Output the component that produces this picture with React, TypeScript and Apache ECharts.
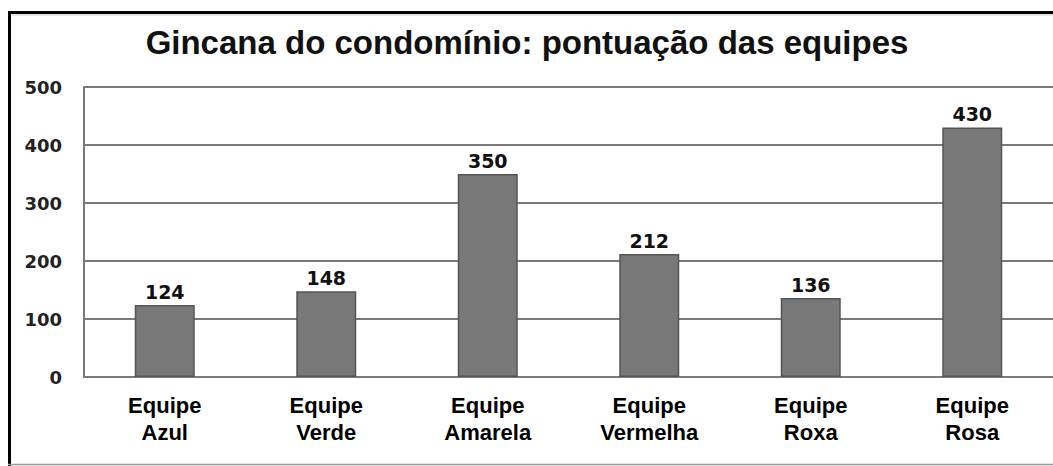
import React, { useEffect, useRef } from "react";
import * as echarts from "echarts";

const categories = [
  "Equipe\nAzul",
  "Equipe\nVerde",
  "Equipe\nAmarela",
  "Equipe\nVermelha",
  "Equipe\nRoxa",
  "Equipe\nRosa",
];
const values = [124, 148, 350, 212, 136, 430];
const titleText = "Gincana do condomínio: pontuação das equipes";

export default function App() {
  const ref = useRef<HTMLDivElement>(null);
  useEffect(() => {
    document.body.style.margin = "0";
    const chart = echarts.init(ref.current!, null, { renderer: "svg" });
    chart.setOption({
      animation: false,
      backgroundColor: "#ffffff",
      title: {
        text: titleText,
        left: 522,
        textAlign: "center",
        top: 21,
        textStyle: {
          fontFamily: "Liberation Sans, Arial, sans-serif",
          fontWeight: "bold",
          fontSize: 33,
          color: "#111",
        },
      },
      grid: { left: 84, right: 0, top: 87, bottom: 89, containLabel: false },
      xAxis: {
        type: "category",
        data: categories,
        axisTick: { show: false },
        axisLine: { show: true, lineStyle: { color: "#7a7a7a", width: 2 } },
        axisLabel: {
          interval: 0,
          margin: 15,
          fontFamily: "Liberation Sans, Arial, sans-serif",
          fontWeight: "bold",
          fontSize: 22,
          lineHeight: 27,
          color: "#000",
        },
      },
      yAxis: {
        type: "value",
        min: 0,
        max: 500,
        interval: 100,
        axisLine: { show: true, lineStyle: { color: "#7a7a7a", width: 2 } },
        axisTick: { show: false },
        splitLine: { show: true, lineStyle: { color: "#7a7a7a", width: 2 } },
        axisLabel: {
          margin: 22,
          fontFamily: "DejaVu Sans, sans-serif",
          fontWeight: "bold",
          fontSize: 18,
          color: "#222",
        },
      },
      series: [
        {
          type: "bar",
          data: values,
          barWidth: 60,
          itemStyle: { color: "#787878", borderColor: "#555", borderWidth: 1.5 },
          label: {
            show: true,
            position: "top",
            distance: 4,
            fontFamily: "DejaVu Sans, sans-serif",
            fontWeight: "bold",
            fontSize: 19,
            color: "#111",
          },
        },
      ],
      graphic: [
        {
          type: "line",
          shape: { x1: 8, y1: 14.5, x2: 1053, y2: 14.5 },
          style: { stroke: "#e6e6e6", lineWidth: 3 },
        },
        {
          type: "line",
          shape: { x1: 9.5, y1: 11, x2: 9.5, y2: 466 },
          style: { stroke: "#000", lineWidth: 3 },
        },
        {
          type: "line",
          shape: { x1: 8, y1: 12.5, x2: 1053, y2: 12.5 },
          style: { stroke: "#000", lineWidth: 3 },
        },
        {
          type: "line",
          shape: { x1: 8, y1: 464.5, x2: 1053, y2: 464.5 },
          style: { stroke: "#999", lineWidth: 1.5 },
        },
      ],
    });
    return () => chart.dispose();
  }, []);
  return (
    <div
      ref={ref}
      style={{ position: "fixed", left: 0, top: 0, width: 1053, height: 466 }}
    />
  );
}
